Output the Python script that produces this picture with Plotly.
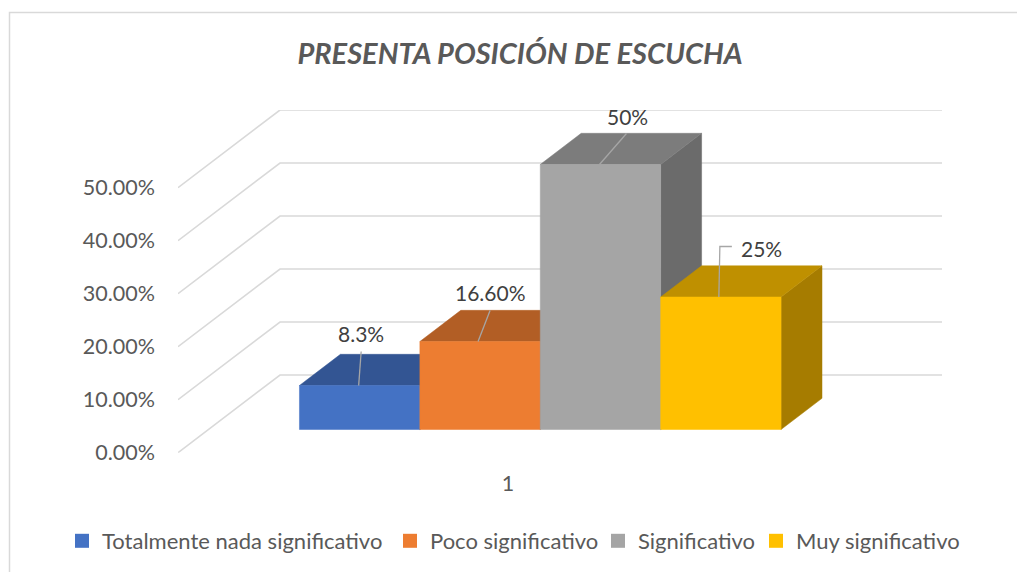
import plotly.graph_objects as go

categories = ["Totalmente nada significativo", "Poco significativo", "Significativo", "Muy significativo"]
values = [8.3, 16.6, 50, 25]
value_labels = ["8.3%", "16.60%", "50%", "25%"]
tick_values = [0, 10, 20, 30, 40, 50]
tick_labels = ["0.00%", "10.00%", "20.00%", "30.00%", "40.00%", "50.00%"]
group_label = "1"

front_colors = ["#4472C4", "#ED7D31", "#A5A5A5", "#FFC000"]
top_colors = ["#335593", "#B25E25", "#7C7C7C", "#BF9000"]
side_colors = ["#2C4A80", "#9A5220", "#6B6B6B", "#A67C00"]

WIDTH, HEIGHT = 1017, 572
PLOT_L, PLOT_R, PLOT_T, PLOT_B = 178, 942, 110, 452.7
PX_PER_CAT = 120.4
PX_PER_PCT = 5.3

# oblique projection: going back one unit of depth shifts right and up
DEPTH_X = 102 / PX_PER_CAT
DEPTH_Y = 77.7 / PX_PER_PCT
BAR_Z0, BAR_Z1 = 0.2986, 0.70
X_ORIGIN = 269

X_MIN = (PLOT_L - X_ORIGIN) / PX_PER_CAT
X_MAX = (PLOT_R - X_ORIGIN) / PX_PER_CAT
Y_MAX = (PLOT_B - PLOT_T) / PX_PER_PCT

# label centre and leader line, in pixels from the middle of the bar's top front edge
label_offsets = [(1, -52), (10, -49), (27, -48), (41, -49)]
leader_paths = [
    [(-1, 0), (1.5, -34)],
    [(-2, 0), (10, -31)],
    [(-1, 0), (26, -31)],
    [(-2, 0), (-1, -50.5), (11, -50.5)],
]
# one legend per entry, the native row spaces items too widely
legend_lefts = [62, 390, 598, 756]


def project(x, value, z):
    return x + z * DEPTH_X, value + z * DEPTH_Y


def face(points, color):
    xs, ys = zip(*[project(*p) for p in points + points[:1]])
    return go.Scatter(
        x=xs, y=ys, mode="lines", fill="toself", fillcolor=color,
        line=dict(color=color, width=0.5), hoverinfo="skip", showlegend=False,
    )


fig = go.Figure()

# wall and side gridlines
for v in tick_values:
    fig.add_trace(go.Scatter(
        x=[X_MIN, X_MIN + DEPTH_X, X_MAX],
        y=[v, v + DEPTH_Y, v + DEPTH_Y],
        mode="lines", line=dict(color="#D9D9D9", width=1.6),
        hoverinfo="skip", showlegend=False,
    ))

# bars, left to right so the nearer faces cover the ones behind
for i, v in enumerate(values):
    l, r = i, i + 1
    fig.add_trace(face([(r, 0, BAR_Z0), (r, 0, BAR_Z1), (r, v, BAR_Z1), (r, v, BAR_Z0)], side_colors[i]))
    fig.add_trace(face([(l, v, BAR_Z0), (r, v, BAR_Z0), (r, v, BAR_Z1), (l, v, BAR_Z1)], top_colors[i]))
    fig.add_trace(face([(l, 0, BAR_Z0), (r, 0, BAR_Z0), (r, v, BAR_Z0), (l, v, BAR_Z0)], front_colors[i]))

# data labels and their leader lines
for i, v in enumerate(values):
    cx, cy = project(i + 0.5, v, BAR_Z0)
    fig.add_trace(go.Scatter(
        x=[cx + dx / PX_PER_CAT for dx, dy in leader_paths[i]],
        y=[cy - dy / PX_PER_PCT for dx, dy in leader_paths[i]],
        mode="lines", line=dict(color="#A6A6A6", width=1.3),
        hoverinfo="skip", showlegend=False,
    ))
    dx, dy = label_offsets[i]
    fig.add_annotation(
        x=cx + dx / PX_PER_CAT, y=cy - dy / PX_PER_PCT, text=value_labels[i],
        showarrow=False, font=dict(family="Lato", size=21, color="#404040"),
    )

# legend entries
legends = {}
for i, (name, color) in enumerate(zip(categories, front_colors)):
    key = "legend" if i == 0 else f"legend{i + 1}"
    fig.add_trace(go.Scatter(
        x=[None], y=[None], mode="markers", name=name, legend=key,
        marker=dict(symbol="square", size=14, color=color),
    ))
    legends[key] = dict(
        orientation="h", xref="container", yref="container",
        x=legend_lefts[i] / WIDTH, xanchor="left", y=1 - 541 / HEIGHT, yanchor="middle",
        font=dict(family="Lato", size=22, color="#595959"),
    )

# chart frame, only the top and left edges show in the picture
fig.add_shape(
    type="path", xref="paper", yref="paper", line=dict(color="#D9D9D9", width=1.5),
    path="M {} 0 L {} {} L 1 {}".format(
        9.5 / WIDTH, 9.5 / WIDTH, 1 - 12.5 / HEIGHT, 1 - 12.5 / HEIGHT,
    ),
)

fig.update_layout(
    width=WIDTH, height=HEIGHT,
    margin=dict(l=0, r=0, t=0, b=0, autoexpand=False),
    paper_bgcolor="white", plot_bgcolor="white",
    font=dict(family="Lato", size=21.5, color="#595959"),
    title=dict(
        text="<b><i>PRESENTA POSICIÓN DE ESCUCHA</i></b>",
        x=520 / WIDTH, xanchor="center", y=1 - 54 / HEIGHT, yanchor="middle",
        font=dict(family="Lato", size=29, color="#595959"),
    ),
    showlegend=True,
    **legends,
)
fig.update_xaxes(
    domain=[PLOT_L / WIDTH, PLOT_R / WIDTH],
    range=[X_MIN, X_MAX], tickvals=[1.985], ticktext=[group_label],
    showgrid=False, zeroline=False, showline=False, ticks="", ticklabelstandoff=16,
)
fig.update_yaxes(
    domain=[1 - PLOT_B / HEIGHT, 1 - PLOT_T / HEIGHT],
    range=[0, Y_MAX], tickvals=tick_values, ticktext=tick_labels,
    showgrid=False, zeroline=False, showline=False, ticks="", ticklabelstandoff=22,
)

fig.write_html(
    "out.html",
    config={"displayModeBar": False},
    post_script="document.body.style.margin='0';document.body.style.overflow='hidden';",
)
